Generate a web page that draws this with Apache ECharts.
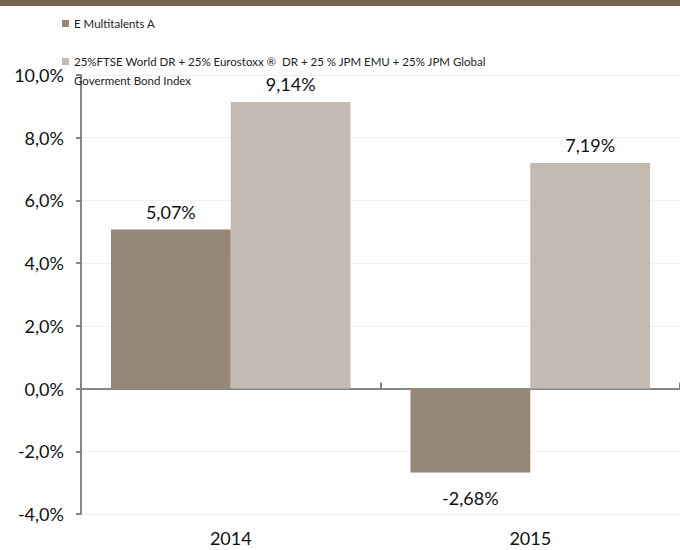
<!DOCTYPE html>
<html>
<head>
<meta charset="utf-8">
<script src="https://cdn.jsdelivr.net/npm/echarts@6/dist/echarts.min.js"></script>
<style>
html,body{margin:0;padding:0;background:#fff;}
#c{width:680px;height:550px;}
</style>
</head>
<body>
<div id="c"></div>
<script>
const categories = ['2014', '2015'];
const seriesNames = ['E Multitalents A', '25%FTSE World DR + 25% Eurostoxx ®  DR + 25 % JPM EMU + 25% JPM Global\nGoverment Bond Index'];
const fundValues = [5.07, -2.68];
const indexValues = [9.14, 7.19];
const yTicks = { min: -4, max: 10, interval: 2 };

const FONT = 'Lato';
const fmtPct = (v, d) => v.toFixed(d).replace('.', ',') + '%';

function makeData(values) {
  return values.map(v => ({
    value: v,
    label: { position: v < 0 ? 'bottom' : 'top', distance: v < 0 ? 16 : 9 }
  }));
}

const chart = echarts.init(document.getElementById('c'), null, { renderer: 'svg' });
chart.setOption({
  animation: false,
  backgroundColor: '#ffffff',
  graphic: [{
    type: 'rect', left: 0, top: 0, shape: { width: 680, height: 6 },
    style: { fill: '#756650' }, silent: true
  }],
  legend: {
    orient: 'vertical', left: 62, top: 14, padding: 0, itemGap: 0,
    itemWidth: 7, itemHeight: 7, icon: 'rect',
    data: seriesNames,
    // a leading blank line keeps the icon level with the first text line
    formatter: name => (name.indexOf('\n') >= 0 ? ' \n' + name : name),
    textStyle: { fontFamily: FONT, fontSize: 11.5, color: '#222', lineHeight: 19 },
    selectedMode: false
  },
  grid: { left: 81, right: -1, top: 75, bottom: 36, containLabel: false },
  xAxis: [{
    type: 'category', data: categories,
    axisLine: { onZero: true, lineStyle: { color: '#868686', width: 2 } },
    axisTick: { show: true, inside: true, length: 6, lineStyle: { color: '#868686', width: 2 } },
    axisLabel: { show: false },
    splitLine: { show: false }
  }, {
    type: 'category', data: categories, position: 'bottom',
    axisLine: { show: false }, axisTick: { show: false },
    axisLabel: { margin: 15, fontFamily: FONT, fontSize: 18, color: '#111' }
  }],
  yAxis: {
    type: 'value', min: yTicks.min, max: yTicks.max, interval: yTicks.interval,
    axisLine: { show: true, lineStyle: { color: '#868686', width: 2 } },
    axisTick: { show: true, length: 5, lineStyle: { color: '#868686', width: 2 } },
    axisLabel: { margin: 17, fontFamily: FONT, fontSize: 18, color: '#111', formatter: v => fmtPct(v, 1) },
    splitLine: { show: true, lineStyle: { color: '#f0f0f0', width: 1 } }
  },
  series: [{
    name: seriesNames[0], type: 'bar', data: makeData(fundValues),
    barGap: '0%', barCategoryGap: '20%',
    itemStyle: { color: '#978777' },
    label: { show: true, fontFamily: FONT, fontSize: 18, color: '#111', formatter: p => fmtPct(p.value, 2) }
  }, {
    name: seriesNames[1], type: 'bar', data: makeData(indexValues),
    barGap: '0%', barCategoryGap: '20%',
    itemStyle: { color: '#c3bbb1' },
    label: { show: true, fontFamily: FONT, fontSize: 18, color: '#111', formatter: p => fmtPct(p.value, 2) }
  }]
});
</script>
</body>
</html>
